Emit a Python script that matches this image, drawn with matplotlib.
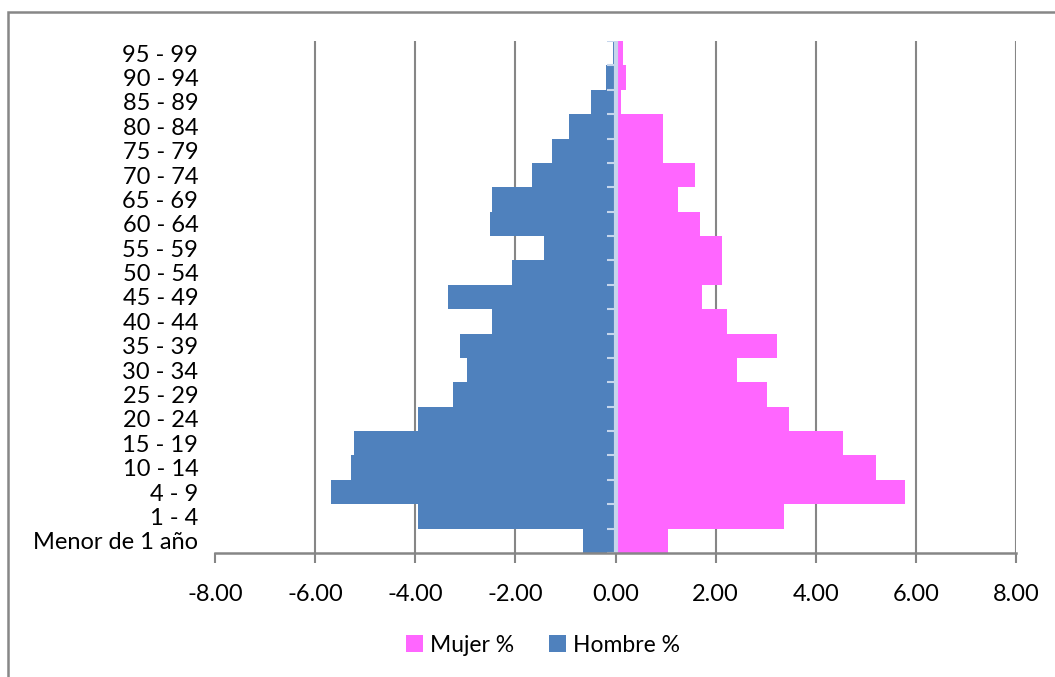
import matplotlib.pyplot as plt
import numpy as np
from matplotlib.patches import Rectangle

plt.rcParams['font.family'] = ['Lato', 'DejaVu Sans']

# age groups, bottom to top
grupos = ["Menor de 1 año", "1 - 4", "4 - 9", "10 - 14", "15 - 19", "20 - 24",
          "25 - 29", "30 - 34", "35 - 39", "40 - 44", "45 - 49", "50 - 54",
          "55 - 59", "60 - 64", "65 - 69", "70 - 74", "75 - 79", "80 - 84",
          "85 - 89", "90 - 94", "95 - 99"]
mujer = [1.04, 3.36, 5.78, 5.20, 4.55, 3.46, 3.02, 2.43, 3.22, 2.23, 1.73, 2.13,
         2.13, 1.68, 1.24, 1.58, 0.94, 0.94, 0.10, 0.20, 0.15]
hombre = [-0.64, -3.95, -5.68, -5.28, -5.22, -3.95, -3.25, -2.96, -3.10, -2.47,
          -3.35, -2.07, -1.42, -2.51, -2.47, -1.67, -1.27, -0.93, -0.49, -0.19, -0.05]
x_ticks = [-8, -6, -4, -2, 0, 2, 4, 6, 8]

W, H = 1055, 677
fig = plt.figure(figsize=(W / 100, H / 100), dpi=100)
ax = fig.add_axes([215 / W, 1 - 553 / H, (1016 - 215) / W, (553 - 41) / H])

y = np.arange(len(grupos))
ax.barh(y, mujer, height=1.0, color='#FF66FF', label='Mujer %', zorder=2)
ax.barh(y, hombre, height=1.0, color='#4F81BD', label='Hombre %', zorder=2)

ax.set_xlim(-8, 8)
ax.set_ylim(-0.5, len(grupos) - 0.5)

# vertical gridlines
for xt in x_ticks[1:]:
    ax.axvline(xt, color='#868686', lw=1.5, zorder=1)

# category axis at zero with boundary ticks
ax.axvline(0, color='#C6D6EC', lw=3, zorder=3)
ax.hlines(np.arange(-0.5, len(grupos), 1), -0.16, 0, color='#C6D6EC', lw=1.5, zorder=3)

for s in ['top', 'right', 'left']:
    ax.spines[s].set_visible(False)
ax.spines['bottom'].set_color('#868686')
ax.spines['bottom'].set_linewidth(1.8)
ax.spines['bottom'].set_zorder(4)

ax.set_xticks(x_ticks)
ax.set_xticklabels([f"{v:.2f}" for v in x_ticks])
ax.tick_params(axis='x', length=7, width=1.5, color='#868686', pad=15, labelsize=17)
ax.set_yticks(y)
ax.set_yticklabels(grupos)
ax.tick_params(axis='y', length=0, pad=12, labelsize=17)

fig.legend(loc='center', bbox_to_anchor=(543 / W, 1 - 645 / H), ncol=2, frameon=False,
           fontsize=16.5, handlelength=0.75, handleheight=0.75, handletextpad=0.3,
           columnspacing=1.5)

# outer chart border
fig.patches.append(Rectangle((8 / W, -0.1), 1.2, 1.1 - 12 / H, transform=fig.transFigure,
                             fill=False, edgecolor='#878787', lw=1.8, clip_on=False))

fig.savefig('out.png', dpi=100)
